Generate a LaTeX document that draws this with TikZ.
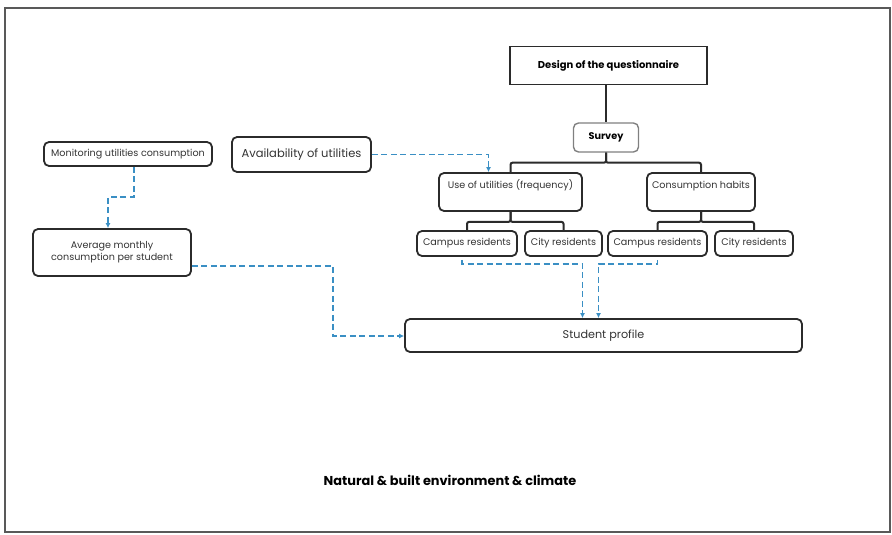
\documentclass[tikz,border=0pt]{standalone}
\usepackage{fontspec}
\setmainfont{Poppins}
\usetikzlibrary{arrows.meta}
\definecolor{linkblue}{HTML}{3A8FC4}
\definecolor{boxline}{HTML}{2B2B2B}

\begin{document}
\begin{tikzpicture}[x=1pt, y=-1pt,
	box/.style={draw=boxline, line width=1.8pt, rounded corners=5pt, inner sep=0pt,
		align=center, text=black!80, font=\fontsize{9.6}{12}\selectfont},
	topbox/.style={box, text height=10pt, text depth=18pt, inner ysep=5pt},
	headbox/.style={box, text=black, font=\fontsize{10}{12}\selectfont\bfseries},
	tree/.style={draw=boxline, line width=2pt, rounded corners=2pt},
	dashlink/.style={draw=linkblue, line width=1.6pt, dash pattern=on 6pt off 3.5pt,
		-{Latex[length=5pt,width=5pt]}}]
	\useasboundingbox (0,0) rectangle (892,535);
	%frame
	\draw[line width=2pt, black!65] (5,8) rectangle (890,532);

	%questionnaire tree
	\node[headbox, rounded corners=0pt, line width=1.6pt, minimum width=197, minimum height=38] (design) at (608.5,65.5) {Design of the questionnaire};
	\node[headbox, draw=black!50, line width=1.4pt, font=\fontsize{9.7}{12}\selectfont\bfseries, minimum width=65, minimum height=29] (survey) at (606,137.5) {Survey};
	\node[topbox, minimum width=143] (use) at (510.5,192) {Use of utilities (frequency)};
	\node[topbox, minimum width=108] (habits) at (701,192) {Consumption habits};
	\node[box, minimum width=100, minimum height=25] (camp1) at (467,243.5) {Campus residents};
	\node[box, minimum width=77, minimum height=25] (city1) at (563.5,243.5) {City residents};
	\node[box, minimum width=99, minimum height=25] (camp2) at (657.5,243.5) {Campus residents};
	\node[box, minimum width=78, minimum height=25] (city2) at (754,243.5) {City residents};
	\node[box, font=\fontsize{11.2}{13}\selectfont, minimum width=397, minimum height=33] (profile) at (603.5,335.5) {Student profile};

	\draw[tree] (survey.north |- design.south) -- (survey.north);
	\foreach \kid in {use, habits}{
		\draw[tree] (survey.south) -- ++(0,10) -| (\kid.north);
	}
	\foreach \kid in {camp1, city1}{
		\draw[tree] (use.south) -- ++(0,10) -| (\kid.north);
	}
	\foreach \kid in {camp2, city2}{
		\draw[tree] (habits.south) -- ++(0,10) -| (\kid.north);
	}

	%left side
	\node[box, font=\fontsize{11.5}{13}\selectfont, minimum width=139, minimum height=35] (avail) at (301.5,154.5) {Availability of utilities};
	\node[box, minimum width=168, minimum height=24] (mon) at (128,154) {Monitoring utilities consumption};
	\node[box, minimum width=158, minimum height=47] (avg) at (112,252.5) {Average monthly\\consumption per student};
	\coordinate (bend) at (333,336);

	%links
	\draw[dashlink] (avail.east) -| ([xshift=-22pt]use.north);
	\draw[dashlink] ([xshift=6pt]mon.south) -- ++(0,30) -| ([xshift=-4pt]avg.north);
	\draw[dashlink] ([yshift=-13.5pt]avg.east) -| (bend) -- (profile.west |- bend);
	\draw[dashlink] ([xshift=-5pt, yshift=-3pt]camp1.south) -- ++(0,4) -| ([xshift=-21pt]profile.north);
	\draw[dashlink] ([yshift=-3pt]camp2.south) -- ++(0,4) -| ([xshift=-5pt]profile.north);

	\node[font=\fontsize{12.9}{15}\selectfont\bfseries] (title) at (450,480) {Natural \& built environment \& climate};
\end{tikzpicture}
\end{document}
